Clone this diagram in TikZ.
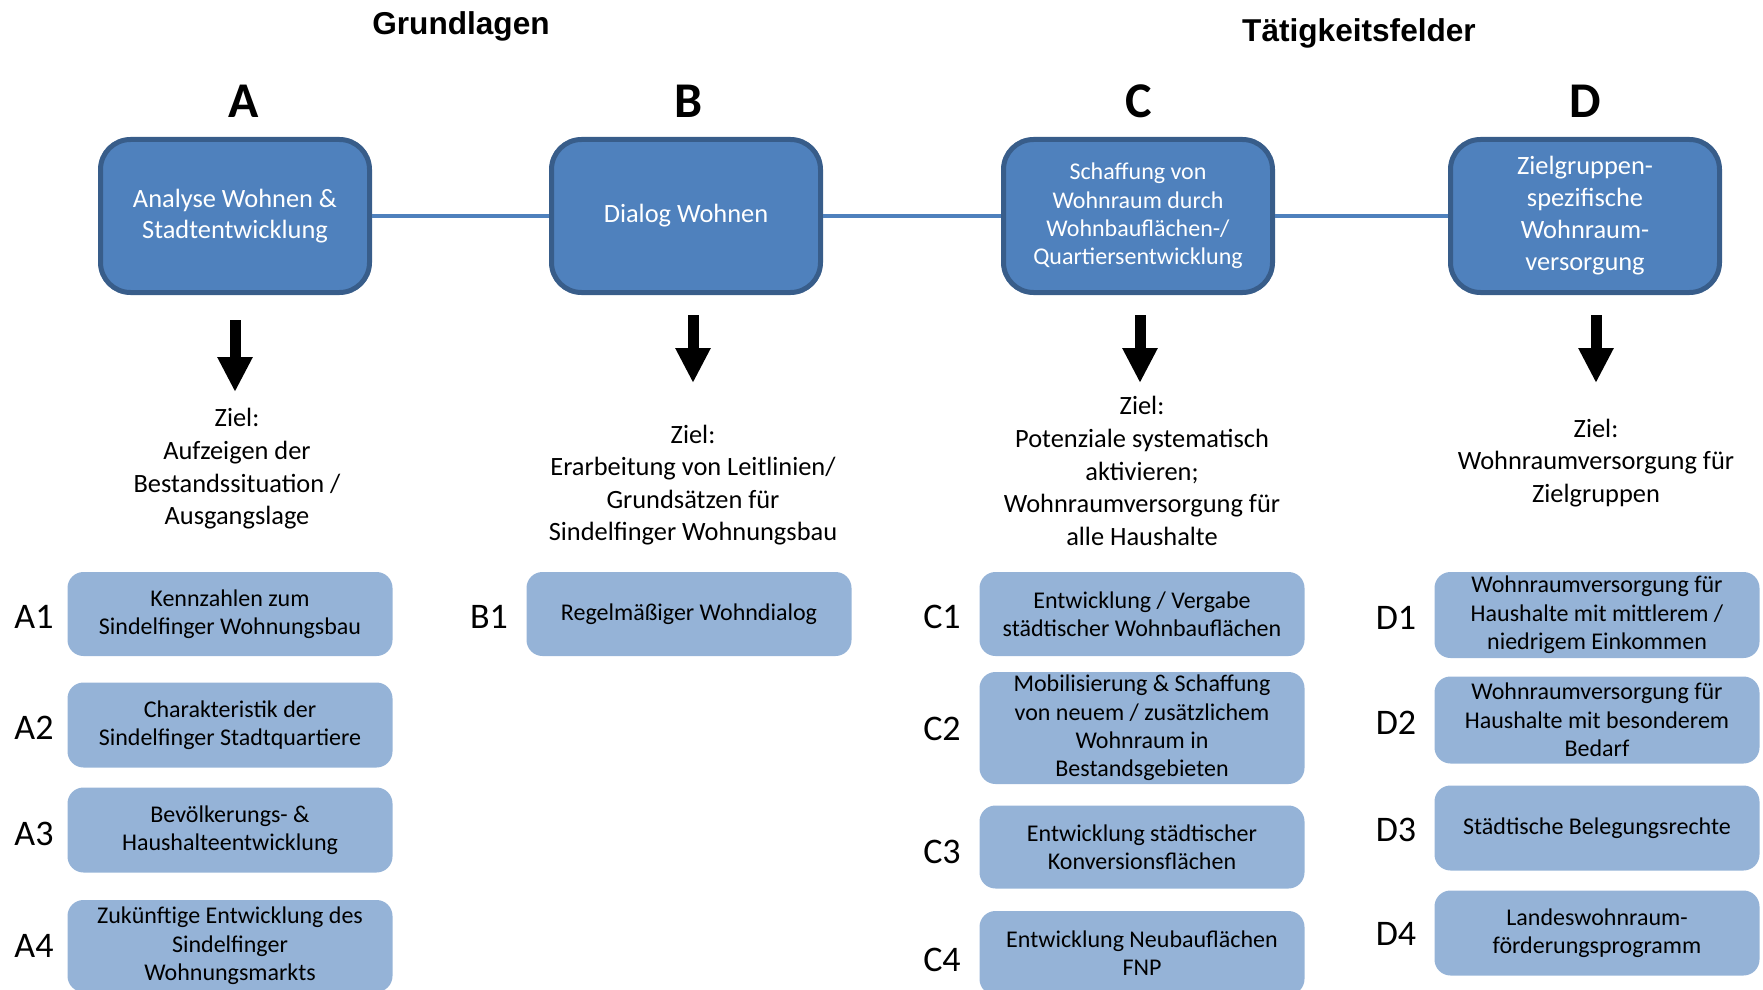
\documentclass[tikz,border=0pt]{standalone}
\usepackage{fontspec}
\setmainfont{Carlito}
\newfontfamily\headfont{Liberation Sans}
\usetikzlibrary{arrows.meta}
\definecolor{topblue}{HTML}{4F81BD}
\definecolor{topedge}{HTML}{385D8A}
\definecolor{subblue}{HTML}{95B3D7}

\begin{document}
\begin{tikzpicture}[x=0.5pt,y=-0.5pt,
	field/.style={draw=topedge,line width=2.5pt,fill=topblue,rounded corners=15pt,minimum width=134.5pt,minimum height=76.5pt,text=white,align=center,inner sep=0pt,font=\fontsize{13.2}{15.8}\selectfont},
	task/.style={fill=subblue,rounded corners=8pt,minimum width=162.5pt,align=center,inner sep=0pt,font=\fontsize{12}{14.2}\selectfont},
	tag/.style={yshift=-1pt,font=\fontsize{18}{21}\selectfont},
	goal/.style={yshift=-1.5pt,align=center,font=\fontsize{13.2}{16.3}\selectfont},
	letter/.style={font=\fontsize{25}{30}\selectfont\bfseries},
	heading/.style={yshift=-1.2pt,font=\headfont\bfseries\fontsize{15.8}{19}\selectfont},
	link/.style={topblue,line width=2.2pt},
	down/.style={line width=5.5pt,-{Triangle[width=16.5pt,length=17.5pt]}}]
	\useasboundingbox (0,0) rectangle (1763,990);

	\node[heading] (grund) at (461,24) {Grundlagen};
	\node[heading] (taetig) at (1359,31) {Tätigkeitsfelder};

	\node[letter] (letA) at (244,101) {A};
	\node[letter] (letB) at (689,101) {B};
	\node[letter] (letC) at (1139,101) {C};
	\node[letter] (letD) at (1585,101) {D};

	\node[field] (A) at (235,216) {Analyse Wohnen \&\\Stadtentwicklung};
	\node[field] (B) at (686,216) {Dialog Wohnen};
	\node[field,font=\fontsize{12}{14.2}\selectfont] (C) at (1138,216) {Schaffung von\\Wohnraum durch\\Wohnbauflächen-/\\Quartiersentwicklung};
	\node[field,font=\fontsize{13.2}{16}\selectfont] (D) at (1585,216) {Zielgruppen-\\spezifische\\Wohnraum-\\versorgung};

	\draw[link] (A.east) -- (B.west);
	\draw[link] (B.east) -- (C.west);
	\draw[link] (C.east) -- (D.west);

	\coordinate (aS) at (235,320); \coordinate (aT) at (235,392);
	\coordinate (bS) at (693,315); \coordinate (bT) at (693,383);
	\coordinate (cS) at (1140,315); \coordinate (cT) at (1140,383);
	\coordinate (dS) at (1596,315); \coordinate (dT) at (1596,383);
	\draw[down] (aS) -- (aT);
	\draw[down] (bS) -- (bT);
	\draw[down] (cS) -- (cT);
	\draw[down] (dS) -- (dT);

	\node[goal] (zielA) at (237,466) {Ziel:\\Aufzeigen der\\Bestandssituation /\\Ausgangslage};
	\node[goal] (zielB) at (693,482) {Ziel:\\Erarbeitung von Leitlinien/\\Grundsätzen für\\Sindelfinger Wohnungsbau};
	\node[goal] (zielC) at (1142,468) {Ziel:\\Potenziale systematisch\\aktivieren;\\Wohnraumversorgung für\\alle Haushalte};
	\node[goal] (zielD) at (1596,460) {Ziel:\\Wohnraumversorgung für\\Zielgruppen};

	% Grundlagen
	\node[task,minimum height=42pt] (A1) at (230,614) {Kennzahlen zum\\Sindelfinger Wohnungsbau};
	\node[task,minimum height=42.5pt] (A2) at (230,725) {Charakteristik der\\Sindelfinger Stadtquartiere};
	\node[task,minimum height=42.5pt] (A3) at (230,830) {Bevölkerungs- \&\\Haushalteentwicklung};
	\node[task,minimum height=46pt] (A4) at (230,946) {Zukünftige Entwicklung des\\Sindelfinger\\Wohnungsmarkts};
	\node[task,minimum height=42pt] (B1) at (689,614) {Regelmäßiger Wohndialog};

	% Taetigkeitsfelder
	\node[task,minimum height=42pt] (C1) at (1142,614) {Entwicklung / Vergabe\\städtischer Wohnbauflächen};
	\node[task,minimum height=56pt] (C2) at (1142,728) {Mobilisierung \& Schaffung\\von neuem / zusätzlichem\\Wohnraum in\\Bestandsgebieten};
	\node[task,minimum height=41.5pt] (C3) at (1142,847) {Entwicklung städtischer\\Konversionsflächen};
	\node[task,minimum height=42pt] (C4) at (1142,953) {Entwicklung Neubauflächen\\FNP};
	\node[task,minimum height=43pt] (D1) at (1597,615) {Wohnraumversorgung für\\Haushalte mit mittlerem /\\niedrigem Einkommen};
	\node[task,minimum height=43.5pt] (D2) at (1597,720) {Wohnraumversorgung für\\Haushalte mit besonderem\\Bedarf};
	\node[task,minimum height=42.5pt] (D3) at (1597,828) {Städtische Belegungsrechte};
	\node[task,minimum height=42.5pt] (D4) at (1597,933) {Landeswohnraum-\\förderungsprogramm};

	\node[tag] (tA1) at (34,615) {A1};
	\node[tag] (tA2) at (34,726) {A2};
	\node[tag] (tA3) at (34,832) {A3};
	\node[tag] (tA4) at (34,944) {A4};
	\node[tag] (tB1) at (489,615) {B1};
	\node[tag] (tC1) at (942,615) {C1};
	\node[tag] (tC2) at (942,727) {C2};
	\node[tag] (tC3) at (942,850) {C3};
	\node[tag] (tC4) at (942,958) {C4};
	\node[tag] (tD1) at (1396,616) {D1};
	\node[tag] (tD2) at (1396,721) {D2};
	\node[tag] (tD3) at (1396,828) {D3};
	\node[tag] (tD4) at (1396,932) {D4};
\end{tikzpicture}
\end{document}
